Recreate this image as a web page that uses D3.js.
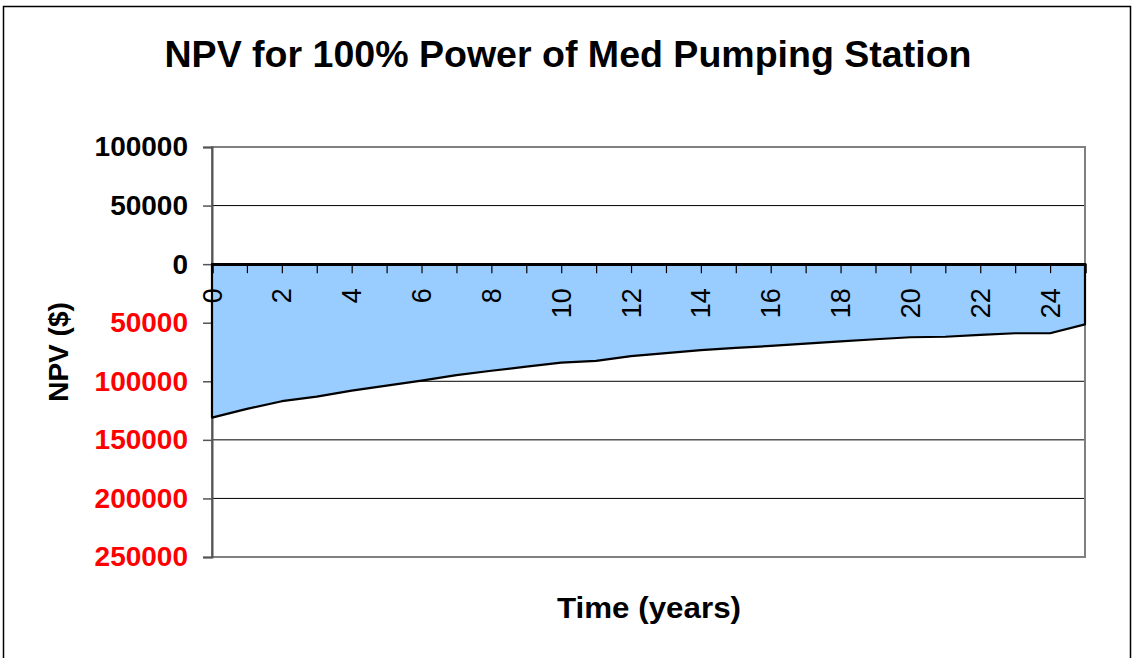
<!DOCTYPE html>
<html>
<head>
<meta charset="utf-8">
<script src="https://cdn.jsdelivr.net/npm/d3@7"></script>
<style>
  body { margin: 0; background: #fff; }
  svg { display: block; }
</style>
</head>
<body>
<svg id="chart"></svg>
<script>
/* data */
const years = d3.range(0, 26)
const npv = [-131000, -123500, -117000, -113100, -108000, -103700, -99500, -94700,
  -91000, -87500, -84000, -82500, -78500, -76000, -73400, -71500, -69800, -67800,
  -66000, -64100, -62400, -62000, -60400, -59000, -59000, -51400]
const yTicks = [100000, 50000, 0, -50000, -100000, -150000, -200000, -250000]
const xLabels = [0, 2, 4, 6, 8, 10, 12, 14, 16, 18, 20, 22, 24]

const width = 1135, height = 658
const plot = {left: 212, right: 1085, top: 147, bottom: 557}
const font = '"Liberation Sans", Arial, sans-serif'

const svg = d3.select('#chart').attr('width', width).attr('height', height)

/* outer chart border */
svg.append('rect')
  .attr('x', 3.5).attr('y', 6.5)
  .attr('width', 1127).attr('height', 720)
  .attr('fill', '#fff').attr('stroke', '#000').attr('stroke-width', 1.5)

const x = d3.scaleLinear().domain([0, 25]).range([plot.left, plot.right])
const y = d3.scaleLinear().domain([100000, -250000]).range([plot.top, plot.bottom])

/* gridlines */
svg.append('g').selectAll('line')
  .data(yTicks)
  .enter().append('line')
  .attr('x1', plot.left).attr('x2', plot.right)
  .attr('y1', d => y(d)).attr('y2', d => y(d))
  .attr('stroke', '#000').attr('stroke-width', 1)

/* plot area border */
svg.append('rect')
  .attr('x', plot.left).attr('y', plot.top)
  .attr('width', plot.right - plot.left).attr('height', plot.bottom - plot.top)
  .attr('fill', 'none').attr('stroke', '#808080').attr('stroke-width', 2)

/* y axis (drawn before the area so the area outline sits on top) */
const yAxis = d3.axisLeft(y)
  .tickValues(yTicks)
  .tickSize(9)
  .tickPadding(15)
  .tickFormat(d => Math.abs(d))

const gy = svg.append('g')
  .attr('transform', `translate(${plot.left},0)`)
  .call(yAxis)
gy.select('.domain').attr('stroke', '#555').attr('stroke-width', 2)
gy.selectAll('.tick line').attr('stroke', '#555').attr('stroke-width', 1.5)
gy.selectAll('.tick text')
  .attr('font-family', font)
  .attr('font-size', 28)
  .attr('font-weight', 'bold')
  .attr('fill', d => d < 0 ? '#FF0000' : '#000')

/* area */
const area = d3.area()
  .x((d, i) => x(years[i]))
  .y0(y(0))
  .y1(d => y(d))

svg.append('path')
  .datum(npv)
  .attr('d', area)
  .attr('fill', '#99CCFF')
  .attr('stroke', '#000')
  .attr('stroke-width', 2.2)
  .attr('stroke-linejoin', 'round')

/* x axis on the zero line, ticks pointing down */
const xAxis = d3.axisBottom(x)
  .tickValues(years)
  .tickSize(9)
  .tickPadding(0)
  .tickFormat(d => xLabels.includes(d) ? d : '')

const gx = svg.append('g')
  .attr('transform', `translate(0,${y(0)})`)
  .call(xAxis)
gx.select('.domain').attr('stroke', '#000').attr('stroke-width', 2.5)
gx.selectAll('.tick line').attr('stroke', '#000').attr('stroke-width', 1.2)
gx.selectAll('.tick text')
  .attr('font-family', font)
  .attr('font-size', 27)
  .attr('fill', '#000')
  .attr('text-anchor', 'end')
  .attr('dy', null)
  .attr('dominant-baseline', 'central')
  .attr('transform', 'translate(0,24) rotate(-90)')
  .attr('y', 0)

/* title */
svg.append('text')
  .attr('x', 568).attr('y', 67)
  .attr('text-anchor', 'middle')
  .attr('font-family', font)
  .attr('font-size', 37)
  .attr('font-weight', 'bold')
  .attr('textLength', 807)
  .attr('lengthAdjust', 'spacingAndGlyphs')
  .text('NPV for 100% Power of Med Pumping Station')

/* axis titles */
svg.append('text')
  .attr('transform', 'translate(68,352) rotate(-90)')
  .attr('text-anchor', 'middle')
  .attr('font-family', font)
  .attr('font-size', 28)
  .attr('font-weight', 'bold')
  .text('NPV ($)')

svg.append('text')
  .attr('x', 649).attr('y', 618)
  .attr('text-anchor', 'middle')
  .attr('font-family', font)
  .attr('font-size', 30)
  .attr('font-weight', 'bold')
  .attr('textLength', 184)
  .attr('lengthAdjust', 'spacingAndGlyphs')
  .text('Time (years)')
</script>
</body>
</html>
